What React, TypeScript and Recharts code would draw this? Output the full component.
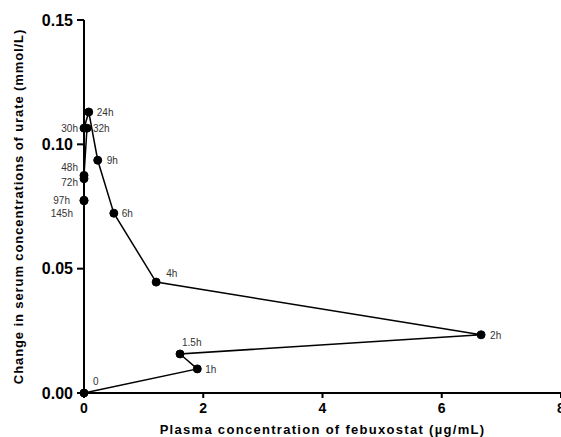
import { LineChart, Line, XAxis, YAxis, Label, LabelList } from "recharts";

const timeLabels = ["0", "1h", "1.5h", "2h", "4h", "6h", "9h", "24h", "30h", "32h", "48h", "72h", "97h", "145h"];
const febuxostat = [0, 1.9, 1.61, 6.66, 1.21, 0.5, 0.23, 0.08, 0.0, 0.05, 0.0, 0.0, 0.0, 0.0];
const urateChange = [0, 0.0097, 0.0157, 0.0234, 0.0446, 0.0723, 0.0936, 0.113, 0.1065, 0.1065, 0.0875, 0.0862, 0.0775, 0.0773];
const xTicks = [0, 2, 4, 6, 8];
const yTicks = [0, 0.05, 0.1, 0.15];

const data = timeLabels.map((t, i) => ({ t, x: febuxostat[i], y: urateChange[i] }));

// where each time label sits relative to its dot
const place: Record<string, { dx: number; dy: number; anchor: string }> = {
  "0": { dx: 9, dy: -12, anchor: "start" },
  "1h": { dx: 8, dy: 0, anchor: "start" },
  "1.5h": { dx: 2, dy: -12, anchor: "start" },
  "2h": { dx: 9, dy: 0, anchor: "start" },
  "4h": { dx: 10, dy: -9, anchor: "start" },
  "6h": { dx: 8, dy: 0, anchor: "start" },
  "9h": { dx: 9, dy: 0, anchor: "start" },
  "24h": { dx: 8, dy: 0, anchor: "start" },
  "30h": { dx: -6, dy: 0, anchor: "end" },
  "32h": { dx: 6, dy: 0, anchor: "start" },
  "48h": { dx: -6, dy: -8, anchor: "end" },
  "72h": { dx: -6, dy: 3, anchor: "end" },
  "97h": { dx: -14, dy: 0, anchor: "end" },
  "145h": { dx: -11, dy: 12, anchor: "end" },
};

const font = "'Liberation Sans', Arial, sans-serif";

function TimeLabel(props: any) {
  const { x, y, value } = props;
  const p = place[value] || { dx: 8, dy: 0, anchor: "start" };
  return (
    <text x={x + p.dx} y={y + p.dy} dy={4} textAnchor={p.anchor} fontSize={10} fill="#333" fontFamily={font}>
      {value}
    </text>
  );
}

export default function App() {
  return (
    <div style={{ position: "absolute", top: 0, left: 0, width: 561, height: 437, background: "#fff", overflow: "hidden" }}>
      <LineChart width={561} height={437} data={data} margin={{ top: 20, right: 0, left: 36, bottom: 0 }}>
        <XAxis
          type="number"
          dataKey="x"
          domain={[0, 8]}
          ticks={xTicks}
          interval={0}
          stroke="#000"
          strokeWidth={2}
          tickSize={5}
          tickMargin={5}
          height={44}
          tick={{ fontSize: 14, fontWeight: "bold", fill: "#000", fontFamily: font }}
        >
          <Label
            value="Plasma concentration of febuxostat (µg/mL)"
            position="insideBottom"
            offset={3}
            style={{ fontSize: 13, fontWeight: "bold", fill: "#000", fontFamily: font, letterSpacing: 1.3 }}
          />
        </XAxis>
        <YAxis
          type="number"
          dataKey="y"
          domain={[0, 0.15]}
          ticks={yTicks}
          interval={0}
          tickFormatter={(v: number) => v.toFixed(2)}
          stroke="#000"
          strokeWidth={2}
          tickSize={7}
          tickMargin={4}
          width={48}
          tick={{ fontSize: 16, fontWeight: "bold", fill: "#000", fontFamily: font }}
        >
          <Label
            value="Change in serum concentrations of urate (mmol/L)"
            angle={-90}
            position="insideLeft"
            offset={-18}
            style={{ textAnchor: "middle", fontSize: 13, fontWeight: "bold", fill: "#000", fontFamily: font, letterSpacing: 0.9 }}
          />
        </YAxis>
        <Line
          type="linear"
          dataKey="y"
          stroke="#000"
          strokeWidth={1.5}
          dot={{ r: 4, fill: "#000", stroke: "#000", strokeWidth: 1 }}
          isAnimationActive={false}
        >
          <LabelList dataKey="t" content={TimeLabel} />
        </Line>
      </LineChart>
    </div>
  );
}
